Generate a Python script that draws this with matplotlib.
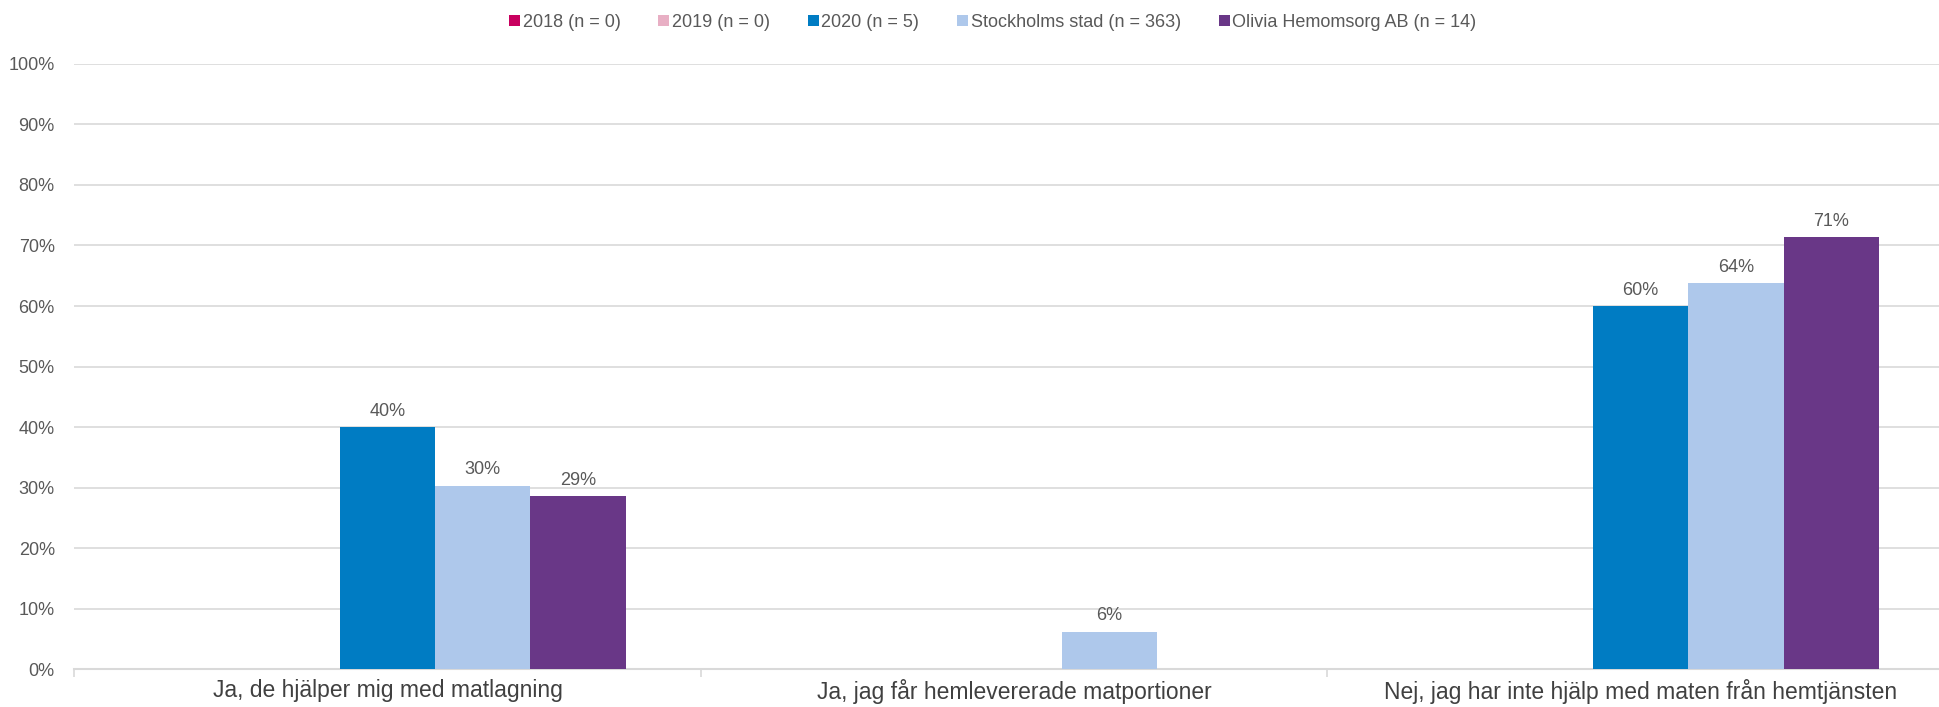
import matplotlib.pyplot as plt
from matplotlib.patches import Patch
from matplotlib.ticker import FuncFormatter, FixedLocator
import numpy as np

plt.rcParams['font.family'] = ['Liberation Sans', 'DejaVu Sans']

categories = ['Ja, de hjälper mig med matlagning',
              'Ja, jag får hemlevererade matportioner',
              'Nej, jag har inte hjälp med maten från hemtjänsten']
series = ['2018 (n = 0)', '2019 (n = 0)', '2020 (n = 5)',
          'Stockholms stad (n = 363)', 'Olivia Hemomsorg AB (n = 14)']
colors = ['#C8005F', '#E8AFC4', '#007CC3', '#AEC8EB', '#693787']
v2018 = [0, 0, 0]
v2019 = [0, 0, 0]
v2020 = [40, 0, 60]
vstad = [30.3, 6.2, 63.8]
volivia = [28.6, 0, 71.4]
values = [v2018, v2019, v2020, vstad, volivia]
# which bars get a label (n = 0 series and empty bars have none)
show = [[False] * 3, [False] * 3, [True, False, True], [True, True, True], [True, False, True]]

fig = plt.figure(figsize=(19.39, 7.07), dpi=100)
# axes runs a bit past the right edge, like the original export
ax = fig.add_axes([0.0383, 0.0537, 0.9694, 0.8558])

x = np.arange(len(categories))
w = 0.152
grey = '#595959'
for i, (name, vals, col) in enumerate(zip(series, values, colors)):
    pos = x + (i - 2) * w
    bars = ax.bar(pos, vals, width=w, color=col, zorder=3)
    for b, v, s in zip(bars, vals, show[i]):
        if s:
            ax.text(b.get_x() + b.get_width() / 2, v + 1.2, f'{v:.0f}%',
                    ha='center', va='bottom', fontsize=13, color=grey)

ax.set_xlim(-0.5, 2.5)
ax.set_ylim(0, 100)
ax.set_yticks(np.arange(0, 101, 10))
ax.yaxis.set_major_formatter(FuncFormatter(lambda v, p: f'{v:.0f}%'))
ax.tick_params(axis='y', length=0, labelsize=13, labelcolor=grey, pad=14)
ax.grid(axis='y', color='#D9D9D9', linewidth=1.2, zorder=0)

ax.set_xticks(x)
ax.set_xticklabels(categories, fontsize=16.5, color='#404040')
ax.tick_params(axis='x', length=0, pad=7)
ax.xaxis.set_minor_locator(FixedLocator([-0.5, 0.5, 1.5, 2.5]))
ax.tick_params(axis='x', which='minor', length=6, color='#D9D9D9', width=1.2)

for sp in ['top', 'right', 'left']:
    ax.spines[sp].set_visible(False)
ax.spines['bottom'].set_color('#D9D9D9')
ax.spines['bottom'].set_linewidth(1.5)

handles = [Patch(facecolor=c, edgecolor='none') for c in colors]
fig.legend(handles, series, loc='center', bbox_to_anchor=(0.512, 0.968), ncol=5,
           frameon=False, fontsize=13, handlelength=0.6, handleheight=0.6,
           handletextpad=0.15, columnspacing=2.1, labelcolor=grey)

fig.savefig('out.png', dpi=100)
